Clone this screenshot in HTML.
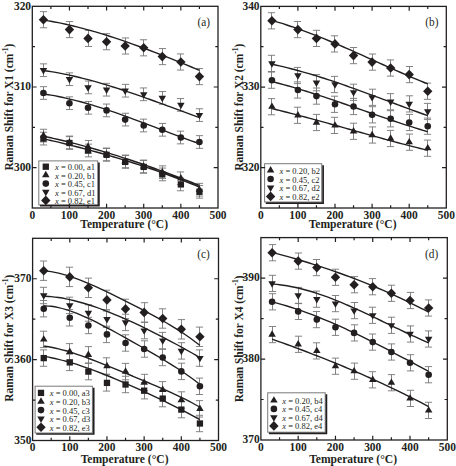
<!DOCTYPE html>
<html><head><meta charset="utf-8"><style>
html,body{margin:0;padding:0;background:#fff;}
body{width:456px;height:466px;overflow:hidden;}
svg{display:block;}
text{font-family:"Liberation Serif",serif;fill:#231f20;}
.tl{font-size:12.2px;font-weight:bold;}
.at{font-size:12px;font-weight:bold;}
.lg{font-size:8.5px;}
.tag{font-size:12.4px;}
</style></head><body>
<svg width="456" height="466" viewBox="0 0 456 466">
<rect width="456" height="466" fill="#fff"/>
<path d="M43.5 129.25V141.95M39.9 129.25H47.1M39.9 141.95H47.1M69.5 136.05V148.75M65.9 136.05H73.1M65.9 148.75H73.1M88.5 140.45V153.15M84.9 140.45H92.1M84.9 153.15H92.1M106.5 148.05V160.75M102.9 148.05H110.1M102.9 160.75H110.1M125.5 155.05V167.75M121.9 155.05H129.1M121.9 167.75H129.1M143.5 160.05V172.75M139.9 160.05H147.1M139.9 172.75H147.1M162.5 165.85V178.55M158.9 165.85H166.1M158.9 178.55H166.1M180.5 171.95V184.65M176.9 171.95H184.1M176.9 184.65H184.1M199.5 183.35V196.05M195.9 183.35H203.1M195.9 196.05H203.1M43.5 132.25V144.95M39.9 132.25H47.1M39.9 144.95H47.1M69.5 136.65V149.35M65.9 136.65H73.1M65.9 149.35H73.1M88.5 144.15V156.85M84.9 144.15H92.1M84.9 156.85H92.1M106.5 148.45V161.15M102.9 148.45H110.1M102.9 161.15H110.1M125.5 155.55V168.25M121.9 155.55H129.1M121.9 168.25H129.1M143.5 160.55V173.25M139.9 160.55H147.1M139.9 173.25H147.1M162.5 168.05V180.75M158.9 168.05H166.1M158.9 180.75H166.1M180.5 178.05V190.75M176.9 178.05H184.1M176.9 190.75H184.1M199.5 185.45V198.15M195.9 185.45H203.1M195.9 198.15H203.1M43.5 86.65V99.35M39.9 86.65H47.1M39.9 99.35H47.1M69.5 96.85V109.55M65.9 96.85H73.1M65.9 109.55H73.1M88.5 101.45V114.15M84.9 101.45H92.1M84.9 114.15H92.1M106.5 104.05V116.75M102.9 104.05H110.1M102.9 116.75H110.1M125.5 113.25V125.95M121.9 113.25H129.1M121.9 125.95H129.1M143.5 119.15V131.85M139.9 119.15H147.1M139.9 131.85H147.1M162.5 123.45V136.15M158.9 123.45H166.1M158.9 136.15H166.1M180.5 131.15V143.85M176.9 131.15H184.1M176.9 143.85H184.1M199.5 135.65V148.35M195.9 135.65H203.1M195.9 148.35H203.1M43.5 63.85V76.55M39.9 63.85H47.1M39.9 76.55H47.1M69.5 72.85V85.55M65.9 72.85H73.1M65.9 85.55H73.1M88.5 81.05V93.75M84.9 81.05H92.1M84.9 93.75H92.1M106.5 83.35V96.05M102.9 83.35H110.1M102.9 96.05H110.1M125.5 84.35V97.05M121.9 84.35H129.1M121.9 97.05H129.1M143.5 87.95V100.65M139.9 87.95H147.1M139.9 100.65H147.1M162.5 91.55V104.25M158.9 91.55H166.1M158.9 104.25H166.1M180.5 98.55V111.25M176.9 98.55H184.1M176.9 111.25H184.1M199.5 108.75V121.45M195.9 108.75H203.1M195.9 121.45H203.1M43.5 11.65V27.75M39.9 11.65H47.1M39.9 27.75H47.1M69.5 21.55V37.65M65.9 21.55H73.1M65.9 37.65H73.1M88.5 30.35V46.45M84.9 30.35H92.1M84.9 46.45H92.1M106.5 33.65V49.75M102.9 33.65H110.1M102.9 49.75H110.1M125.5 37.95V54.05M121.9 37.95H129.1M121.9 54.05H129.1M143.5 39.75V55.85M139.9 39.75H147.1M139.9 55.85H147.1M162.5 48.55V64.65M158.9 48.55H166.1M158.9 64.65H166.1M180.5 53.95V70.05M176.9 53.95H184.1M176.9 70.05H184.1M199.5 68.55V84.65M195.9 68.55H203.1M195.9 84.65H203.1" stroke="#767676" stroke-width="0.9" fill="none"/>
<path d="M43.44 136.19C44.68 136.46 48.39 137.25 50.87 137.8C53.35 138.35 55.82 138.92 58.3 139.5C60.77 140.08 63.25 140.68 65.73 141.29C68.2 141.89 70.68 142.51 73.15 143.15C75.63 143.78 78.11 144.43 80.58 145.09C83.06 145.75 85.53 146.43 88.01 147.12C90.49 147.8 92.96 148.5 95.44 149.21C97.91 149.92 100.39 150.65 102.87 151.38C105.34 152.12 107.82 152.87 110.29 153.63C112.77 154.39 115.25 155.16 117.72 155.94C120.2 156.72 122.67 157.52 125.15 158.32C127.63 159.13 130.1 159.94 132.58 160.77C135.05 161.6 137.53 162.43 140.01 163.28C142.48 164.13 144.96 164.99 147.43 165.86C149.91 166.72 152.39 167.6 154.86 168.49C157.34 169.38 159.81 170.28 162.29 171.18C164.77 172.09 167.24 173.01 169.72 173.93C172.19 174.86 174.67 175.8 177.15 176.74C179.62 177.68 182.1 178.64 184.57 179.6C187.05 180.56 189.53 181.53 192 182.5C194.48 183.48 198.19 184.97 199.43 185.46M43.44 138.76C44.68 139.04 48.39 139.88 50.87 140.45C53.35 141.02 55.82 141.6 58.3 142.19C60.77 142.78 63.25 143.37 65.73 143.98C68.2 144.59 70.68 145.2 73.15 145.83C75.63 146.45 78.11 147.09 80.58 147.73C83.06 148.38 85.53 149.03 88.01 149.69C90.49 150.36 92.96 151.03 95.44 151.71C97.91 152.4 100.39 153.09 102.87 153.79C105.34 154.5 107.82 155.21 110.29 155.94C112.77 156.66 115.25 157.4 117.72 158.14C120.2 158.89 122.67 159.65 125.15 160.42C127.63 161.18 130.1 161.96 132.58 162.75C135.05 163.55 137.53 164.35 140.01 165.16C142.48 165.98 144.96 166.8 147.43 167.64C149.91 168.48 152.39 169.33 154.86 170.19C157.34 171.05 159.81 171.92 162.29 172.81C164.77 173.7 167.24 174.6 169.72 175.51C172.19 176.42 174.67 177.34 177.15 178.28C179.62 179.22 182.1 180.17 184.57 181.13C187.05 182.1 189.53 183.07 192 184.06C194.48 185.05 198.19 186.57 199.43 187.08M43.44 94.02C44.68 94.21 48.39 94.74 50.87 95.15C53.35 95.57 55.82 96.03 58.3 96.51C60.77 97 63.25 97.52 65.73 98.07C68.2 98.63 70.68 99.21 73.15 99.82C75.63 100.44 78.11 101.08 80.58 101.75C83.06 102.42 85.53 103.11 88.01 103.83C90.49 104.55 92.96 105.29 95.44 106.06C97.91 106.82 100.39 107.61 102.87 108.41C105.34 109.21 107.82 110.04 110.29 110.87C112.77 111.71 115.25 112.57 117.72 113.44C120.2 114.3 122.67 115.19 125.15 116.08C127.63 116.97 130.1 117.88 132.58 118.79C135.05 119.71 137.53 120.63 140.01 121.56C142.48 122.48 144.96 123.42 147.43 124.35C149.91 125.29 152.39 126.23 154.86 127.17C157.34 128.12 159.81 129.06 162.29 130C164.77 130.94 167.24 131.88 169.72 132.82C172.19 133.75 174.67 134.68 177.15 135.61C179.62 136.53 182.1 137.45 184.57 138.36C187.05 139.27 189.53 140.17 192 141.05C194.48 141.94 198.19 143.24 199.43 143.68M43.44 70.47C44.68 70.66 48.39 71.19 50.87 71.6C53.35 72 55.82 72.44 58.3 72.9C60.77 73.36 63.25 73.85 65.73 74.37C68.2 74.88 70.68 75.42 73.15 75.99C75.63 76.55 78.11 77.15 80.58 77.76C83.06 78.37 85.53 79.01 88.01 79.66C90.49 80.32 92.96 81 95.44 81.69C97.91 82.39 100.39 83.1 102.87 83.84C105.34 84.57 107.82 85.32 110.29 86.09C112.77 86.85 115.25 87.64 117.72 88.43C120.2 89.23 122.67 90.04 125.15 90.86C127.63 91.69 130.1 92.52 132.58 93.37C135.05 94.21 137.53 95.07 140.01 95.94C142.48 96.8 144.96 97.68 147.43 98.56C149.91 99.44 152.39 100.33 154.86 101.22C157.34 102.12 159.81 103.02 162.29 103.92C164.77 104.83 167.24 105.74 169.72 106.65C172.19 107.56 174.67 108.47 177.15 109.38C179.62 110.3 182.1 111.21 184.57 112.12C187.05 113.04 189.53 113.95 192 114.86C194.48 115.76 198.19 117.12 199.43 117.57M43.44 19.97C44.68 20.18 48.39 20.79 50.87 21.24C53.35 21.69 55.82 22.17 58.3 22.67C60.77 23.17 63.25 23.7 65.73 24.25C68.2 24.8 70.68 25.38 73.15 25.97C75.63 26.57 78.11 27.19 80.58 27.83C83.06 28.47 85.53 29.14 88.01 29.82C90.49 30.5 92.96 31.21 95.44 31.93C97.91 32.65 100.39 33.39 102.87 34.15C105.34 34.91 107.82 35.69 110.29 36.48C112.77 37.28 115.25 38.09 117.72 38.92C120.2 39.74 122.67 40.59 125.15 41.44C127.63 42.3 130.1 43.17 132.58 44.06C135.05 44.94 137.53 45.84 140.01 46.75C142.48 47.66 144.96 48.58 147.43 49.51C149.91 50.45 152.39 51.39 154.86 52.35C157.34 53.3 159.81 54.27 162.29 55.24C164.77 56.21 167.24 57.19 169.72 58.18C172.19 59.17 174.67 60.17 177.15 61.17C179.62 62.17 182.1 63.18 184.57 64.19C187.05 65.21 189.53 66.23 192 67.25C194.48 68.27 198.19 69.82 199.43 70.33" stroke="#231f20" stroke-width="1.4" fill="none"/>
<g fill="#231f20"><path d="M43.44 131.33L47.19 137.73L39.69 137.73Z"/><path d="M69.44 138.13L73.19 144.53L65.69 144.53Z"/><path d="M88.01 142.53L91.76 148.93L84.26 148.93Z"/><path d="M106.58 150.13L110.33 156.53L102.83 156.53Z"/><path d="M125.15 157.13L128.9 163.53L121.4 163.53Z"/><path d="M143.72 162.13L147.47 168.53L139.97 168.53Z"/><path d="M162.29 167.93L166.04 174.33L158.54 174.33Z"/><path d="M180.86 174.03L184.61 180.43L177.11 180.43Z"/><path d="M199.43 185.43L203.18 191.83L195.68 191.83Z"/><rect x="40.29" y="135.45" width="6.3" height="6.3"/><rect x="66.29" y="139.85" width="6.3" height="6.3"/><rect x="84.86" y="147.35" width="6.3" height="6.3"/><rect x="103.43" y="151.65" width="6.3" height="6.3"/><rect x="122" y="158.75" width="6.3" height="6.3"/><rect x="140.57" y="163.75" width="6.3" height="6.3"/><rect x="159.14" y="171.25" width="6.3" height="6.3"/><rect x="177.71" y="181.25" width="6.3" height="6.3"/><rect x="196.28" y="188.65" width="6.3" height="6.3"/><circle cx="43.44" cy="93" r="3.3"/><circle cx="69.44" cy="103.2" r="3.3"/><circle cx="88.01" cy="107.8" r="3.3"/><circle cx="106.58" cy="110.4" r="3.3"/><circle cx="125.15" cy="119.6" r="3.3"/><circle cx="143.72" cy="125.5" r="3.3"/><circle cx="162.29" cy="129.8" r="3.3"/><circle cx="180.86" cy="137.5" r="3.3"/><circle cx="199.43" cy="142" r="3.3"/><path d="M43.44 74.47L47.19 68.07L39.69 68.07Z"/><path d="M69.44 83.47L73.19 77.07L65.69 77.07Z"/><path d="M88.01 91.67L91.76 85.27L84.26 85.27Z"/><path d="M106.58 93.97L110.33 87.57L102.83 87.57Z"/><path d="M125.15 94.97L128.9 88.57L121.4 88.57Z"/><path d="M143.72 98.57L147.47 92.17L139.97 92.17Z"/><path d="M162.29 102.17L166.04 95.77L158.54 95.77Z"/><path d="M180.86 109.17L184.61 102.77L177.11 102.77Z"/><path d="M199.43 119.37L203.18 112.97L195.68 112.97Z"/><path d="M43.44 14.9L48.14 19.7L43.44 24.5L38.74 19.7Z"/><path d="M69.44 24.8L74.14 29.6L69.44 34.4L64.74 29.6Z"/><path d="M88.01 33.6L92.71 38.4L88.01 43.2L83.31 38.4Z"/><path d="M106.58 36.9L111.28 41.7L106.58 46.5L101.88 41.7Z"/><path d="M125.15 41.2L129.85 46L125.15 50.8L120.45 46Z"/><path d="M143.72 43L148.42 47.8L143.72 52.6L139.02 47.8Z"/><path d="M162.29 51.8L166.99 56.6L162.29 61.4L157.59 56.6Z"/><path d="M180.86 57.2L185.56 62L180.86 66.8L176.16 62Z"/><path d="M199.43 71.8L204.13 76.6L199.43 81.4L194.73 76.6Z"/></g>
<rect x="38.8" y="160.9" width="58.9" height="44.1" fill="#fff" stroke="#7a7a7a" stroke-width="1"/>
<path d="M40 205.6H98.9V162.4" stroke="#231f20" stroke-width="1.7" fill="none"/>
<g fill="#231f20"><rect x="42.65" y="163.55" width="6.3" height="6.3"/><path d="M45.8 170.83L49.55 177.23L42.05 177.23Z"/><circle cx="45.8" cy="183.6" r="3.3"/><path d="M45.8 196.27L49.55 189.87L42.05 189.87Z"/><path d="M45.8 195.6L50.5 200.4L45.8 205.2L41.1 200.4Z"/></g>
<text x="55" y="170.2" class="lg"><tspan font-style="italic">x</tspan> = 0.00, a1</text>
<text x="55" y="178.6" class="lg"><tspan font-style="italic">x</tspan> = 0.20, b1</text>
<text x="55" y="187.1" class="lg"><tspan font-style="italic">x</tspan> = 0.45, c1</text>
<text x="55" y="195.5" class="lg"><tspan font-style="italic">x</tspan> = 0.67, d1</text>
<text x="55" y="203.9" class="lg"><tspan font-style="italic">x</tspan> = 0.82, e1</text>
<rect x="32.3" y="6.3" width="185.7" height="201.7" fill="none" stroke="#231f20" stroke-width="1.3"/>
<path d="M50.87 208v-2.7M50.87 6.3v2.7M69.44 208v-4.3M69.44 6.3v4.3M88.01 208v-2.7M88.01 6.3v2.7M106.58 208v-4.3M106.58 6.3v4.3M125.15 208v-2.7M125.15 6.3v2.7M143.72 208v-4.3M143.72 6.3v4.3M162.29 208v-2.7M162.29 6.3v2.7M180.86 208v-4.3M180.86 6.3v4.3M199.43 208v-2.7M199.43 6.3v2.7M32.3 86.98h4.3M218 86.98h-4.3M32.3 167.66h4.3M218 167.66h-4.3M32.3 46.64h2.7M218 46.64h-2.7M32.3 127.32h2.7M218 127.32h-2.7" stroke="#231f20" stroke-width="1.2" fill="none"/>
<text transform="translate(32.3 218.7) scale(0.94 1)" class="tl" text-anchor="middle">0</text>
<text transform="translate(69.44 218.7) scale(0.94 1)" class="tl" text-anchor="middle">100</text>
<text transform="translate(106.58 218.7) scale(0.94 1)" class="tl" text-anchor="middle">200</text>
<text transform="translate(143.72 218.7) scale(0.94 1)" class="tl" text-anchor="middle">300</text>
<text transform="translate(180.86 218.7) scale(0.94 1)" class="tl" text-anchor="middle">400</text>
<text transform="translate(218 218.7) scale(0.94 1)" class="tl" text-anchor="middle">500</text>
<text transform="translate(31.1 9.6) scale(0.94 1)" class="tl" text-anchor="end">320</text>
<text transform="translate(31.1 90.28) scale(0.94 1)" class="tl" text-anchor="end">310</text>
<text transform="translate(31.1 170.96) scale(0.94 1)" class="tl" text-anchor="end">300</text>
<text transform="translate(124.15 228.1) scale(0.965 1)" class="at" text-anchor="middle">Temperature (°C)</text>
<text transform="translate(12.7 107.15) rotate(-90) scale(0.95 1)" class="at" text-anchor="middle">Raman Shift for X1 (cm<tspan dy="-5.0" font-size="8">-1</tspan><tspan dy="5.0">)</tspan></text>
<text transform="translate(203.75 26.1) scale(0.91 1)" class="tag" text-anchor="middle">(a)</text>
<path d="M271.5 98.6V114.8M267.9 98.6H275.1M267.9 114.8H275.1M297.5 107.2V123.4M293.9 107.2H301.1M293.9 123.4H301.1M316.5 114.4V130.6M312.9 114.4H320.1M312.9 130.6H320.1M334.5 117.3V133.5M330.9 117.3H338.1M330.9 133.5H338.1M353.5 123.2V139.4M349.9 123.2H357.1M349.9 139.4H357.1M372.5 126.9V143.1M368.9 126.9H376.1M368.9 143.1H376.1M390.5 130.4V146.6M386.9 130.4H394.1M386.9 146.6H394.1M409.5 134.1V150.3M405.9 134.1H413.1M405.9 150.3H413.1M427.5 140.1V156.3M423.9 140.1H431.1M423.9 156.3H431.1M271.5 72.1V88.3M267.9 72.1H275.1M267.9 88.3H275.1M297.5 81.9V98.1M293.9 81.9H301.1M293.9 98.1H301.1M316.5 88V104.2M312.9 88H320.1M312.9 104.2H320.1M334.5 96.2V112.4M330.9 96.2H338.1M330.9 112.4H338.1M353.5 98.4V114.6M349.9 98.4H357.1M349.9 114.6H357.1M372.5 106.7V122.9M368.9 106.7H376.1M368.9 122.9H376.1M390.5 110.7V126.9M386.9 110.7H394.1M386.9 126.9H394.1M409.5 114.4V130.6M405.9 114.4H413.1M405.9 130.6H413.1M427.5 118.1V134.3M423.9 118.1H431.1M423.9 134.3H431.1M271.5 55.3V71.5M267.9 55.3H275.1M267.9 71.5H275.1M297.5 67.4V83.6M293.9 67.4H301.1M293.9 83.6H301.1M316.5 74.6V90.8M312.9 74.6H320.1M312.9 90.8H320.1M334.5 76.4V92.6M330.9 76.4H338.1M330.9 92.6H338.1M353.5 84.2V100.4M349.9 84.2H357.1M349.9 100.4H357.1M372.5 89.2V105.4M368.9 89.2H376.1M368.9 105.4H376.1M390.5 93.6V109.8M386.9 93.6H394.1M386.9 109.8H394.1M409.5 95.8V112M405.9 95.8H413.1M405.9 112H413.1M427.5 103.4V119.6M423.9 103.4H431.1M423.9 119.6H431.1M271.5 12.7V28.9M267.9 12.7H275.1M267.9 28.9H275.1M297.5 21.5V37.7M293.9 21.5H301.1M293.9 37.7H301.1M316.5 30.3V46.5M312.9 30.3H320.1M312.9 46.5H320.1M334.5 35.8V52M330.9 35.8H338.1M330.9 52H338.1M353.5 47.5V63.7M349.9 47.5H357.1M349.9 63.7H357.1M372.5 54V70.2M368.9 54H376.1M368.9 70.2H376.1M390.5 59.9V76.1M386.9 59.9H394.1M386.9 76.1H394.1M409.5 66.5V82.7M405.9 66.5H413.1M405.9 82.7H413.1M427.5 83.1V99.3M423.9 83.1H431.1M423.9 99.3H431.1" stroke="#767676" stroke-width="0.9" fill="none"/>
<path d="M271.93 108.59C273.17 108.89 276.88 109.79 279.35 110.4C281.82 111.02 284.3 111.64 286.77 112.27C289.24 112.9 291.72 113.54 294.19 114.18C296.66 114.82 299.14 115.47 301.61 116.13C304.08 116.79 306.56 117.45 309.03 118.12C311.5 118.78 313.98 119.45 316.45 120.13C318.92 120.81 321.4 121.49 323.87 122.17C326.34 122.85 328.82 123.54 331.29 124.22C333.76 124.91 336.24 125.6 338.71 126.29C341.18 126.99 343.66 127.68 346.13 128.37C348.6 129.07 351.08 129.76 353.55 130.45C356.02 131.15 358.5 131.84 360.97 132.53C363.44 133.23 365.92 133.92 368.39 134.61C370.86 135.3 373.34 135.98 375.81 136.67C378.28 137.35 380.76 138.03 383.23 138.71C385.7 139.39 388.18 140.06 390.65 140.73C393.12 141.4 395.6 142.06 398.07 142.72C400.54 143.38 403.02 144.03 405.49 144.68C407.96 145.33 410.44 145.97 412.91 146.6C415.38 147.23 417.86 147.86 420.33 148.48C422.8 149.1 426.51 150 427.75 150.31M271.93 81.57C273.17 81.89 276.88 82.83 279.35 83.49C281.82 84.15 284.3 84.83 286.77 85.52C289.24 86.21 291.72 86.92 294.19 87.65C296.66 88.37 299.14 89.11 301.61 89.86C304.08 90.62 306.56 91.38 309.03 92.16C311.5 92.94 313.98 93.73 316.45 94.53C318.92 95.33 321.4 96.14 323.87 96.96C326.34 97.78 328.82 98.61 331.29 99.44C333.76 100.28 336.24 101.12 338.71 101.96C341.18 102.81 343.66 103.66 346.13 104.51C348.6 105.37 351.08 106.23 353.55 107.09C356.02 107.94 358.5 108.81 360.97 109.67C363.44 110.53 365.92 111.39 368.39 112.25C370.86 113.11 373.34 113.97 375.81 114.82C378.28 115.68 380.76 116.53 383.23 117.38C385.7 118.22 388.18 119.06 390.65 119.9C393.12 120.73 395.6 121.56 398.07 122.38C400.54 123.2 403.02 124.02 405.49 124.82C407.96 125.62 410.44 126.41 412.91 127.19C415.38 127.97 417.86 128.74 420.33 129.49C422.8 130.25 426.51 131.35 427.75 131.72M271.93 64.26C273.17 64.53 276.88 65.32 279.35 65.88C281.82 66.44 284.3 67.03 286.77 67.64C289.24 68.25 291.72 68.89 294.19 69.54C296.66 70.19 299.14 70.87 301.61 71.56C304.08 72.25 306.56 72.97 309.03 73.7C311.5 74.43 313.98 75.18 316.45 75.94C318.92 76.71 321.4 77.49 323.87 78.28C326.34 79.08 328.82 79.89 331.29 80.71C333.76 81.53 336.24 82.37 338.71 83.21C341.18 84.06 343.66 84.92 346.13 85.78C348.6 86.65 351.08 87.53 353.55 88.41C356.02 89.29 358.5 90.19 360.97 91.09C363.44 91.98 365.92 92.89 368.39 93.8C370.86 94.71 373.34 95.62 375.81 96.54C378.28 97.46 380.76 98.38 383.23 99.3C385.7 100.22 388.18 101.15 390.65 102.07C393.12 102.99 395.6 103.91 398.07 104.84C400.54 105.76 403.02 106.68 405.49 107.59C407.96 108.51 410.44 109.42 412.91 110.33C415.38 111.23 417.86 112.14 420.33 113.03C422.8 113.93 426.51 115.25 427.75 115.7M271.93 20.54C273.17 20.9 276.88 21.93 279.35 22.66C281.82 23.4 284.3 24.17 286.77 24.96C289.24 25.75 291.72 26.58 294.19 27.43C296.66 28.27 299.14 29.15 301.61 30.04C304.08 30.94 306.56 31.86 309.03 32.79C311.5 33.73 313.98 34.69 316.45 35.67C318.92 36.65 321.4 37.65 323.87 38.66C326.34 39.67 328.82 40.7 331.29 41.74C333.76 42.78 336.24 43.83 338.71 44.9C341.18 45.96 343.66 47.04 346.13 48.12C348.6 49.21 351.08 50.3 353.55 51.4C356.02 52.5 358.5 53.61 360.97 54.71C363.44 55.82 365.92 56.94 368.39 58.05C370.86 59.17 373.34 60.28 375.81 61.4C378.28 62.51 380.76 63.63 383.23 64.74C385.7 65.85 388.18 66.96 390.65 68.06C393.12 69.17 395.6 70.26 398.07 71.35C400.54 72.44 403.02 73.52 405.49 74.59C407.96 75.66 410.44 76.72 412.91 77.77C415.38 78.82 417.86 79.85 420.33 80.87C422.8 81.89 426.51 83.38 427.75 83.88" stroke="#231f20" stroke-width="1.4" fill="none"/>
<g fill="#231f20"><path d="M271.93 102.43L275.68 108.83L268.18 108.83Z"/><path d="M297.9 111.03L301.65 117.43L294.15 117.43Z"/><path d="M316.45 118.23L320.2 124.63L312.7 124.63Z"/><path d="M335 121.13L338.75 127.53L331.25 127.53Z"/><path d="M353.55 127.03L357.3 133.43L349.8 133.43Z"/><path d="M372.1 130.73L375.85 137.13L368.35 137.13Z"/><path d="M390.65 134.23L394.4 140.63L386.9 140.63Z"/><path d="M409.2 137.93L412.95 144.33L405.45 144.33Z"/><path d="M427.75 143.93L431.5 150.33L424 150.33Z"/><circle cx="271.93" cy="80.2" r="3.3"/><circle cx="297.9" cy="90" r="3.3"/><circle cx="316.45" cy="96.1" r="3.3"/><circle cx="335" cy="104.3" r="3.3"/><circle cx="353.55" cy="106.5" r="3.3"/><circle cx="372.1" cy="114.8" r="3.3"/><circle cx="390.65" cy="118.8" r="3.3"/><circle cx="409.2" cy="122.5" r="3.3"/><circle cx="427.75" cy="126.2" r="3.3"/><path d="M271.93 67.67L275.68 61.27L268.18 61.27Z"/><path d="M297.9 79.77L301.65 73.37L294.15 73.37Z"/><path d="M316.45 86.97L320.2 80.57L312.7 80.57Z"/><path d="M335 88.77L338.75 82.37L331.25 82.37Z"/><path d="M353.55 96.57L357.3 90.17L349.8 90.17Z"/><path d="M372.1 101.57L375.85 95.17L368.35 95.17Z"/><path d="M390.65 105.97L394.4 99.57L386.9 99.57Z"/><path d="M409.2 108.17L412.95 101.77L405.45 101.77Z"/><path d="M427.75 115.77L431.5 109.37L424 109.37Z"/><path d="M271.93 16L276.63 20.8L271.93 25.6L267.23 20.8Z"/><path d="M297.9 24.8L302.6 29.6L297.9 34.4L293.2 29.6Z"/><path d="M316.45 33.6L321.15 38.4L316.45 43.2L311.75 38.4Z"/><path d="M335 39.1L339.7 43.9L335 48.7L330.3 43.9Z"/><path d="M353.55 50.8L358.25 55.6L353.55 60.4L348.85 55.6Z"/><path d="M372.1 57.3L376.8 62.1L372.1 66.9L367.4 62.1Z"/><path d="M390.65 63.2L395.35 68L390.65 72.8L385.95 68Z"/><path d="M409.2 69.8L413.9 74.6L409.2 79.4L404.5 74.6Z"/><path d="M427.75 86.4L432.45 91.2L427.75 96L423.05 91.2Z"/></g>
<rect x="264.6" y="163.7" width="57.1" height="38.3" fill="#fff" stroke="#7a7a7a" stroke-width="1"/>
<path d="M265.8 203.2H323.1V165.2" stroke="#231f20" stroke-width="1.7" fill="none"/>
<g fill="#231f20"><path d="M270.6 166.03L274.35 172.43L266.85 172.43Z"/><circle cx="270.6" cy="179" r="3.3"/><path d="M270.6 191.97L274.35 185.57L266.85 185.57Z"/><path d="M270.6 191.6L275.3 196.4L270.6 201.2L265.9 196.4Z"/></g>
<text x="279.5" y="173.8" class="lg"><tspan font-style="italic">x</tspan> = 0.20, b2</text>
<text x="279.5" y="182.5" class="lg"><tspan font-style="italic">x</tspan> = 0.45, c2</text>
<text x="279.5" y="191.2" class="lg"><tspan font-style="italic">x</tspan> = 0.67, d2</text>
<text x="279.5" y="199.9" class="lg"><tspan font-style="italic">x</tspan> = 0.82, e2</text>
<rect x="260.8" y="6.4" width="185.5" height="201.6" fill="none" stroke="#231f20" stroke-width="1.3"/>
<path d="M279.35 208v-2.7M279.35 6.4v2.7M297.9 208v-4.3M297.9 6.4v4.3M316.45 208v-2.7M316.45 6.4v2.7M335 208v-4.3M335 6.4v4.3M353.55 208v-2.7M353.55 6.4v2.7M372.1 208v-4.3M372.1 6.4v4.3M390.65 208v-2.7M390.65 6.4v2.7M409.2 208v-4.3M409.2 6.4v4.3M427.75 208v-2.7M427.75 6.4v2.7M260.8 87.04h4.3M446.3 87.04h-4.3M260.8 167.68h4.3M446.3 167.68h-4.3M260.8 46.72h2.7M446.3 46.72h-2.7M260.8 127.36h2.7M446.3 127.36h-2.7" stroke="#231f20" stroke-width="1.2" fill="none"/>
<text transform="translate(260.8 218.7) scale(0.94 1)" class="tl" text-anchor="middle">0</text>
<text transform="translate(297.9 218.7) scale(0.94 1)" class="tl" text-anchor="middle">100</text>
<text transform="translate(335 218.7) scale(0.94 1)" class="tl" text-anchor="middle">200</text>
<text transform="translate(372.1 218.7) scale(0.94 1)" class="tl" text-anchor="middle">300</text>
<text transform="translate(409.2 218.7) scale(0.94 1)" class="tl" text-anchor="middle">400</text>
<text transform="translate(446.3 218.7) scale(0.94 1)" class="tl" text-anchor="middle">500</text>
<text transform="translate(259.6 9.7) scale(0.94 1)" class="tl" text-anchor="end">340</text>
<text transform="translate(259.6 90.34) scale(0.94 1)" class="tl" text-anchor="end">330</text>
<text transform="translate(259.6 170.98) scale(0.94 1)" class="tl" text-anchor="end">320</text>
<text transform="translate(352.55 228.1) scale(0.965 1)" class="at" text-anchor="middle">Temperature (°C)</text>
<text transform="translate(242.5 107.2) rotate(-90) scale(0.95 1)" class="at" text-anchor="middle">Raman Shift for X2 (cm<tspan dy="-5.0" font-size="8">-1</tspan><tspan dy="5.0">)</tspan></text>
<text transform="translate(431.9 26.1) scale(0.91 1)" class="tag" text-anchor="middle">(b)</text>
<path d="M43.5 349.9V366.3M39.9 349.9H47.1M39.9 366.3H47.1M69.5 354.2V370.6M65.9 354.2H73.1M65.9 370.6H73.1M88.5 363.4V379.8M84.9 363.4H92.1M84.9 379.8H92.1M106.5 374.7V391.1M102.9 374.7H110.1M102.9 391.1H110.1M125.5 376.3V392.7M121.9 376.3H129.1M121.9 392.7H129.1M144.5 382.5V398.9M140.9 382.5H148.1M140.9 398.9H148.1M162.5 390.4V406.8M158.9 390.4H166.1M158.9 406.8H166.1M181.5 401.4V417.8M177.9 401.4H185.1M177.9 417.8H185.1M199.5 415.3V431.7M195.9 415.3H203.1M195.9 431.7H203.1M43.5 331.2V347.6M39.9 331.2H47.1M39.9 347.6H47.1M69.5 343.6V360M65.9 343.6H73.1M65.9 360H73.1M88.5 346.6V363M84.9 346.6H92.1M84.9 363H92.1M106.5 357.8V374.2M102.9 357.8H110.1M102.9 374.2H110.1M125.5 363.4V379.8M121.9 363.4H129.1M121.9 379.8H129.1M144.5 374.3V390.7M140.9 374.3H148.1M140.9 390.7H148.1M162.5 381.6V398M158.9 381.6H166.1M158.9 398H166.1M181.5 391.8V408.2M177.9 391.8H185.1M177.9 408.2H185.1M199.5 400.6V417M195.9 400.6H203.1M195.9 417H203.1M43.5 300.5V316.9M39.9 300.5H47.1M39.9 316.9H47.1M69.5 309.6V326M65.9 309.6H73.1M65.9 326H73.1M88.5 317.3V333.7M84.9 317.3H92.1M84.9 333.7H92.1M106.5 326.2V342.6M102.9 326.2H110.1M102.9 342.6H110.1M125.5 334.8V351.2M121.9 334.8H129.1M121.9 351.2H129.1M144.5 340.8V357.2M140.9 340.8H148.1M140.9 357.2H148.1M162.5 349.3V365.7M158.9 349.3H166.1M158.9 365.7H166.1M181.5 363.2V379.6M177.9 363.2H185.1M177.9 379.6H185.1M199.5 378.1V394.5M195.9 378.1H203.1M195.9 394.5H203.1M43.5 287.3V303.7M39.9 287.3H47.1M39.9 303.7H47.1M69.5 297.2V313.6M65.9 297.2H73.1M65.9 313.6H73.1M88.5 304.8V321.2M84.9 304.8H92.1M84.9 321.2H92.1M106.5 311V327.4M102.9 311H110.1M102.9 327.4H110.1M125.5 314.2V330.6M121.9 314.2H129.1M121.9 330.6H129.1M144.5 322.4V338.8M140.9 322.4H148.1M140.9 338.8H148.1M162.5 332.4V348.8M158.9 332.4H166.1M158.9 348.8H166.1M181.5 342.7V359.1M177.9 342.7H185.1M177.9 359.1H185.1M199.5 349.9V366.3M195.9 349.9H203.1M195.9 366.3H203.1M43.5 261V280.4M39.9 261H47.1M39.9 280.4H47.1M69.5 267.2V286.6M65.9 267.2H73.1M65.9 286.6H73.1M88.5 278.1V297.5M84.9 278.1H92.1M84.9 297.5H92.1M106.5 290.2V309.6M102.9 290.2H110.1M102.9 309.6H110.1M125.5 299.2V318.6M121.9 299.2H129.1M121.9 318.6H129.1M144.5 302.7V322.1M140.9 302.7H148.1M140.9 322.1H148.1M162.5 308.8V328.2M158.9 308.8H166.1M158.9 328.2H166.1M181.5 319.6V339M177.9 319.6H185.1M177.9 339H185.1M199.5 327.1V346.5M195.9 327.1H203.1M195.9 346.5H203.1" stroke="#767676" stroke-width="0.9" fill="none"/>
<path d="M43.75 356.42C44.99 356.64 48.71 357.24 51.19 357.73C53.67 358.23 56.15 358.77 58.63 359.36C61.1 359.95 63.58 360.6 66.06 361.28C68.54 361.95 71.02 362.68 73.5 363.44C75.98 364.19 78.46 364.99 80.93 365.81C83.41 366.64 85.89 367.5 88.37 368.38C90.85 369.26 93.33 370.18 95.81 371.11C98.28 372.05 100.76 373.01 103.24 373.99C105.72 374.97 108.2 375.97 110.68 376.99C113.16 378.01 115.64 379.05 118.11 380.1C120.59 381.15 123.07 382.22 125.55 383.3C128.03 384.38 130.51 385.48 132.99 386.59C135.46 387.7 137.94 388.82 140.42 389.95C142.9 391.08 145.38 392.23 147.86 393.39C150.34 394.54 152.82 395.71 155.29 396.89C157.77 398.08 160.25 399.27 162.73 400.47C165.21 401.68 167.69 402.9 170.17 404.13C172.64 405.36 175.12 406.6 177.6 407.87C180.08 409.13 182.56 410.4 185.04 411.7C187.52 412.99 190 414.3 192.47 415.63C194.95 416.97 198.67 419.01 199.91 419.69M43.75 346.12C44.99 346.3 48.71 346.78 51.19 347.23C53.67 347.68 56.15 348.22 58.63 348.81C61.1 349.4 63.58 350.07 66.06 350.78C68.54 351.48 71.02 352.25 73.5 353.05C75.98 353.85 78.46 354.7 80.93 355.57C83.41 356.44 85.89 357.35 88.37 358.28C90.85 359.2 93.33 360.16 95.81 361.12C98.28 362.09 100.76 363.07 103.24 364.07C105.72 365.06 108.2 366.07 110.68 367.08C113.16 368.09 115.64 369.1 118.11 370.12C120.59 371.14 123.07 372.17 125.55 373.2C128.03 374.22 130.51 375.25 132.99 376.28C135.46 377.31 137.94 378.34 140.42 379.38C142.9 380.42 145.38 381.45 147.86 382.5C150.34 383.54 152.82 384.59 155.29 385.65C157.77 386.71 160.25 387.77 162.73 388.86C165.21 389.94 167.69 391.04 170.17 392.16C172.64 393.28 175.12 394.41 177.6 395.58C180.08 396.75 182.56 397.94 185.04 399.18C187.52 400.41 190 401.68 192.47 403C194.95 404.33 198.67 406.43 199.91 407.12M43.75 305.8C44.99 305.88 48.71 306 51.19 306.3C53.67 306.6 56.15 307.05 58.63 307.59C61.1 308.14 63.58 308.81 66.06 309.56C68.54 310.31 71.02 311.17 73.5 312.08C75.98 312.99 78.46 314 80.93 315.05C83.41 316.09 85.89 317.22 88.37 318.37C90.85 319.52 93.33 320.73 95.81 321.96C98.28 323.19 100.76 324.47 103.24 325.76C105.72 327.05 108.2 328.37 110.68 329.71C113.16 331.04 115.64 332.39 118.11 333.76C120.59 335.12 123.07 336.49 125.55 337.88C128.03 339.26 130.51 340.65 132.99 342.05C135.46 343.44 137.94 344.85 140.42 346.26C142.9 347.67 145.38 349.09 147.86 350.52C150.34 351.95 152.82 353.38 155.29 354.84C157.77 356.29 160.25 357.76 162.73 359.25C165.21 360.74 167.69 362.25 170.17 363.79C172.64 365.33 175.12 366.9 177.6 368.51C180.08 370.13 182.56 371.77 185.04 373.48C187.52 375.2 190 376.95 192.47 378.78C194.95 380.61 198.67 383.54 199.91 384.49M43.75 296.08C44.99 296.17 48.71 296.36 51.19 296.6C53.67 296.84 56.15 297.16 58.63 297.54C61.1 297.91 63.58 298.35 66.06 298.85C68.54 299.34 71.02 299.9 73.5 300.5C75.98 301.11 78.46 301.77 80.93 302.47C83.41 303.17 85.89 303.92 88.37 304.71C90.85 305.49 93.33 306.33 95.81 307.19C98.28 308.06 100.76 308.96 103.24 309.9C105.72 310.83 108.2 311.8 110.68 312.8C113.16 313.8 115.64 314.83 118.11 315.88C120.59 316.93 123.07 318.01 125.55 319.11C128.03 320.21 130.51 321.34 132.99 322.48C135.46 323.63 137.94 324.79 140.42 325.98C142.9 327.16 145.38 328.37 147.86 329.59C150.34 330.81 152.82 332.05 155.29 333.3C157.77 334.55 160.25 335.82 162.73 337.11C165.21 338.39 167.69 339.7 170.17 341.01C172.64 342.33 175.12 343.66 177.6 345C180.08 346.35 182.56 347.71 185.04 349.08C187.52 350.46 190 351.85 192.47 353.26C194.95 354.67 198.67 356.82 199.91 357.53M43.75 270.67C44.99 270.83 48.71 271.2 51.19 271.62C53.67 272.03 56.15 272.56 58.63 273.16C61.1 273.76 63.58 274.45 66.06 275.2C68.54 275.95 71.02 276.78 73.5 277.65C75.98 278.52 78.46 279.46 80.93 280.43C83.41 281.4 85.89 282.42 88.37 283.47C90.85 284.52 93.33 285.62 95.81 286.73C98.28 287.84 100.76 288.98 103.24 290.14C105.72 291.3 108.2 292.48 110.68 293.68C113.16 294.87 115.64 296.08 118.11 297.31C120.59 298.53 123.07 299.77 125.55 301.01C128.03 302.26 130.51 303.52 132.99 304.79C135.46 306.06 137.94 307.34 140.42 308.63C142.9 309.93 145.38 311.23 147.86 312.56C150.34 313.88 152.82 315.22 155.29 316.59C157.77 317.95 160.25 319.34 162.73 320.75C165.21 322.17 167.69 323.61 170.17 325.09C172.64 326.58 175.12 328.09 177.6 329.66C180.08 331.23 182.56 332.84 185.04 334.52C187.52 336.19 190 337.92 192.47 339.73C194.95 341.54 198.67 344.44 199.91 345.39" stroke="#231f20" stroke-width="1.4" fill="none"/>
<g fill="#231f20"><rect x="40.6" y="354.95" width="6.3" height="6.3"/><rect x="66.63" y="359.25" width="6.3" height="6.3"/><rect x="85.22" y="368.45" width="6.3" height="6.3"/><rect x="103.81" y="379.75" width="6.3" height="6.3"/><rect x="122.4" y="381.35" width="6.3" height="6.3"/><rect x="140.99" y="387.55" width="6.3" height="6.3"/><rect x="159.58" y="395.45" width="6.3" height="6.3"/><rect x="178.17" y="406.45" width="6.3" height="6.3"/><rect x="196.76" y="420.35" width="6.3" height="6.3"/><path d="M43.75 335.13L47.5 341.53L40 341.53Z"/><path d="M69.78 347.53L73.53 353.93L66.03 353.93Z"/><path d="M88.37 350.53L92.12 356.93L84.62 356.93Z"/><path d="M106.96 361.73L110.71 368.13L103.21 368.13Z"/><path d="M125.55 367.33L129.3 373.73L121.8 373.73Z"/><path d="M144.14 378.23L147.89 384.63L140.39 384.63Z"/><path d="M162.73 385.53L166.48 391.93L158.98 391.93Z"/><path d="M181.32 395.73L185.07 402.13L177.57 402.13Z"/><path d="M199.91 404.53L203.66 410.93L196.16 410.93Z"/><circle cx="43.75" cy="308.7" r="3.3"/><circle cx="69.78" cy="317.8" r="3.3"/><circle cx="88.37" cy="325.5" r="3.3"/><circle cx="106.96" cy="334.4" r="3.3"/><circle cx="125.55" cy="343" r="3.3"/><circle cx="144.14" cy="349" r="3.3"/><circle cx="162.73" cy="357.5" r="3.3"/><circle cx="181.32" cy="371.4" r="3.3"/><circle cx="199.91" cy="386.3" r="3.3"/><path d="M43.75 299.77L47.5 293.37L40 293.37Z"/><path d="M69.78 309.67L73.53 303.27L66.03 303.27Z"/><path d="M88.37 317.27L92.12 310.87L84.62 310.87Z"/><path d="M106.96 323.47L110.71 317.07L103.21 317.07Z"/><path d="M125.55 326.67L129.3 320.27L121.8 320.27Z"/><path d="M144.14 334.87L147.89 328.47L140.39 328.47Z"/><path d="M162.73 344.87L166.48 338.47L158.98 338.47Z"/><path d="M181.32 355.17L185.07 348.77L177.57 348.77Z"/><path d="M199.91 362.37L203.66 355.97L196.16 355.97Z"/><path d="M43.75 265.9L48.45 270.7L43.75 275.5L39.05 270.7Z"/><path d="M69.78 272.1L74.48 276.9L69.78 281.7L65.08 276.9Z"/><path d="M88.37 283L93.07 287.8L88.37 292.6L83.67 287.8Z"/><path d="M106.96 295.1L111.66 299.9L106.96 304.7L102.26 299.9Z"/><path d="M125.55 304.1L130.25 308.9L125.55 313.7L120.85 308.9Z"/><path d="M144.14 307.6L148.84 312.4L144.14 317.2L139.44 312.4Z"/><path d="M162.73 313.7L167.43 318.5L162.73 323.3L158.03 318.5Z"/><path d="M181.32 324.5L186.02 329.3L181.32 334.1L176.62 329.3Z"/><path d="M199.91 332L204.61 336.8L199.91 341.6L195.21 336.8Z"/></g>
<rect x="35.1" y="386.2" width="57.3" height="46.8" fill="#fff" stroke="#7a7a7a" stroke-width="1"/>
<path d="M36.3 434H93.7V387.7" stroke="#231f20" stroke-width="1.7" fill="none"/>
<g fill="#231f20"><rect x="37.85" y="389.75" width="6.3" height="6.3"/><path d="M41 397.23L44.75 403.63L37.25 403.63Z"/><circle cx="41" cy="410.1" r="3.3"/><path d="M41 422.97L44.75 416.57L37.25 416.57Z"/><path d="M41 422.5L45.7 427.3L41 432.1L36.3 427.3Z"/></g>
<text x="49.8" y="396.4" class="lg"><tspan font-style="italic">x</tspan> = 0.00, a3</text>
<text x="49.8" y="405" class="lg"><tspan font-style="italic">x</tspan> = 0.20, b3</text>
<text x="49.8" y="413.6" class="lg"><tspan font-style="italic">x</tspan> = 0.45, c3</text>
<text x="49.8" y="422.2" class="lg"><tspan font-style="italic">x</tspan> = 0.67, d3</text>
<text x="49.8" y="430.8" class="lg"><tspan font-style="italic">x</tspan> = 0.82, e3</text>
<rect x="32.6" y="238.3" width="185.9" height="202.2" fill="none" stroke="#231f20" stroke-width="1.3"/>
<path d="M51.19 440.5v-2.7M51.19 238.3v2.7M69.78 440.5v-4.3M69.78 238.3v4.3M88.37 440.5v-2.7M88.37 238.3v2.7M106.96 440.5v-4.3M106.96 238.3v4.3M125.55 440.5v-2.7M125.55 238.3v2.7M144.14 440.5v-4.3M144.14 238.3v4.3M162.73 440.5v-2.7M162.73 238.3v2.7M181.32 440.5v-4.3M181.32 238.3v4.3M199.91 440.5v-2.7M199.91 238.3v2.7M32.6 278.74h4.3M218.5 278.74h-4.3M32.6 359.62h4.3M218.5 359.62h-4.3M32.6 319.18h2.7M218.5 319.18h-2.7M32.6 400.06h2.7M218.5 400.06h-2.7" stroke="#231f20" stroke-width="1.2" fill="none"/>
<text transform="translate(32.6 451.2) scale(0.94 1)" class="tl" text-anchor="middle">0</text>
<text transform="translate(69.78 451.2) scale(0.94 1)" class="tl" text-anchor="middle">100</text>
<text transform="translate(106.96 451.2) scale(0.94 1)" class="tl" text-anchor="middle">200</text>
<text transform="translate(144.14 451.2) scale(0.94 1)" class="tl" text-anchor="middle">300</text>
<text transform="translate(181.32 451.2) scale(0.94 1)" class="tl" text-anchor="middle">400</text>
<text transform="translate(218.5 451.2) scale(0.94 1)" class="tl" text-anchor="middle">500</text>
<text transform="translate(31.4 282.04) scale(0.94 1)" class="tl" text-anchor="end">370</text>
<text transform="translate(31.4 362.92) scale(0.94 1)" class="tl" text-anchor="end">360</text>
<text transform="translate(31.4 443.8) scale(0.94 1)" class="tl" text-anchor="end">350</text>
<text transform="translate(124.55 462.7) scale(0.965 1)" class="at" text-anchor="middle">Temperature (°C)</text>
<text transform="translate(13 338.2) rotate(-90) scale(0.95 1)" class="at" text-anchor="middle">Raman Shift for X3 (cm<tspan dy="-5.0" font-size="8">-1</tspan><tspan dy="5.0">)</tspan></text>
<text transform="translate(203.6 258.1) scale(0.91 1)" class="tag" text-anchor="middle">(c)</text>
<path d="M272.5 326.5V342.7M268.9 326.5H276.1M268.9 342.7H276.1M298.5 336.2V352.4M294.9 336.2H302.1M294.9 352.4H302.1M316.5 342.8V359M312.9 342.8H320.1M312.9 359H320.1M335.5 358.1V374.3M331.9 358.1H339.1M331.9 374.3H339.1M354.5 363.1V379.3M350.9 363.1H358.1M350.9 379.3H358.1M372.5 371.7V387.9M368.9 371.7H376.1M368.9 387.9H376.1M391.5 374.6V390.8M387.9 374.6H395.1M387.9 390.8H395.1M410.5 390.3V406.5M406.9 390.3H414.1M406.9 406.5H414.1M428.5 402.3V418.5M424.9 402.3H432.1M424.9 418.5H432.1M272.5 293.7V309.9M268.9 293.7H276.1M268.9 309.9H276.1M298.5 303.3V319.5M294.9 303.3H302.1M294.9 319.5H302.1M316.5 311.5V327.7M312.9 311.5H320.1M312.9 327.7H320.1M335.5 319.2V335.4M331.9 319.2H339.1M331.9 335.4H339.1M354.5 324.8V341M350.9 324.8H358.1M350.9 341H358.1M372.5 334V350.2M368.9 334H376.1M368.9 350.2H376.1M391.5 343.9V360.1M387.9 343.9H395.1M387.9 360.1H395.1M410.5 354.7V370.9M406.9 354.7H414.1M406.9 370.9H414.1M428.5 366.6V382.8M424.9 366.6H432.1M424.9 382.8H432.1M272.5 275.3V291.5M268.9 275.3H276.1M268.9 291.5H276.1M298.5 287.4V303.6M294.9 287.4H302.1M294.9 303.6H302.1M316.5 291.1V307.3M312.9 291.1H320.1M312.9 307.3H320.1M335.5 295.5V311.7M331.9 295.5H339.1M331.9 311.7H339.1M354.5 302.5V318.7M350.9 302.5H358.1M350.9 318.7H358.1M372.5 307.2V323.4M368.9 307.2H376.1M368.9 323.4H376.1M391.5 317.2V333.4M387.9 317.2H395.1M387.9 333.4H395.1M410.5 325.9V342.1M406.9 325.9H414.1M406.9 342.1H414.1M428.5 330.9V347.1M424.9 330.9H432.1M424.9 347.1H432.1M272.5 244.6V260.8M268.9 244.6H276.1M268.9 260.8H276.1M298.5 253V269.2M294.9 253H302.1M294.9 269.2H302.1M316.5 259.5V275.7M312.9 259.5H320.1M312.9 275.7H320.1M335.5 269.2V285.4M331.9 269.2H339.1M331.9 285.4H339.1M354.5 276.6V292.8M350.9 276.6H358.1M350.9 292.8H358.1M372.5 278.6V294.8M368.9 278.6H376.1M368.9 294.8H376.1M391.5 285.2V301.4M387.9 285.2H395.1M387.9 301.4H395.1M410.5 292.4V308.6M406.9 292.4H414.1M406.9 308.6H414.1M428.5 299.9V316.1M424.9 299.9H432.1M424.9 316.1H432.1" stroke="#767676" stroke-width="0.9" fill="none"/>
<path d="M272.08 339.13C273.33 339.58 277.05 340.9 279.54 341.8C282.03 342.69 284.51 343.59 287 344.5C289.48 345.41 291.97 346.32 294.45 347.24C296.94 348.16 299.42 349.09 301.91 350.03C304.39 350.97 306.88 351.91 309.36 352.86C311.85 353.82 314.33 354.78 316.82 355.74C319.31 356.71 321.79 357.69 324.28 358.68C326.76 359.66 329.25 360.66 331.73 361.66C334.22 362.67 336.7 363.68 339.19 364.71C341.67 365.73 344.16 366.76 346.64 367.81C349.13 368.85 351.61 369.9 354.1 370.97C356.59 372.03 359.07 373.11 361.56 374.19C364.04 375.28 366.53 376.38 369.01 377.49C371.5 378.6 373.98 379.72 376.47 380.85C378.95 381.98 381.44 383.12 383.92 384.28C386.41 385.44 388.89 386.6 391.38 387.79C393.87 388.97 396.35 390.16 398.84 391.37C401.32 392.58 403.81 393.8 406.29 395.03C408.78 396.26 411.26 397.51 413.75 398.77C416.23 400.03 418.72 401.31 421.2 402.6C423.69 403.89 427.42 405.86 428.66 406.51M272.08 301.86C273.33 302.19 277.05 303.15 279.54 303.85C282.03 304.54 284.51 305.27 287 306.03C289.48 306.79 291.97 307.58 294.45 308.4C296.94 309.22 299.42 310.07 301.91 310.94C304.39 311.82 306.88 312.72 309.36 313.65C311.85 314.58 314.33 315.54 316.82 316.52C319.31 317.5 321.79 318.51 324.28 319.53C326.76 320.56 329.25 321.61 331.73 322.68C334.22 323.75 336.7 324.85 339.19 325.96C341.67 327.07 344.16 328.2 346.64 329.35C349.13 330.5 351.61 331.67 354.1 332.85C356.59 334.03 359.07 335.23 361.56 336.44C364.04 337.66 366.53 338.88 369.01 340.12C371.5 341.36 373.98 342.62 376.47 343.88C378.95 345.14 381.44 346.42 383.92 347.7C386.41 348.99 388.89 350.28 391.38 351.58C393.87 352.88 396.35 354.19 398.84 355.51C401.32 356.82 403.81 358.15 406.29 359.47C408.78 360.8 411.26 362.13 413.75 363.46C416.23 364.79 418.72 366.13 421.2 367.47C423.69 368.8 427.42 370.81 428.66 371.48M272.08 283.98C273.33 284.1 277.05 284.4 279.54 284.7C282.03 285 284.51 285.37 287 285.79C289.48 286.21 291.97 286.7 294.45 287.23C296.94 287.76 299.42 288.35 301.91 288.99C304.39 289.62 306.88 290.31 309.36 291.04C311.85 291.76 314.33 292.54 316.82 293.35C319.31 294.17 321.79 295.02 324.28 295.91C326.76 296.8 329.25 297.73 331.73 298.69C334.22 299.65 336.7 300.64 339.19 301.66C341.67 302.67 344.16 303.72 346.64 304.79C349.13 305.86 351.61 306.95 354.1 308.06C356.59 309.17 359.07 310.31 361.56 311.45C364.04 312.59 366.53 313.76 369.01 314.93C371.5 316.1 373.98 317.28 376.47 318.47C378.95 319.65 381.44 320.85 383.92 322.04C386.41 323.24 388.89 324.44 391.38 325.63C393.87 326.83 396.35 328.02 398.84 329.21C401.32 330.4 403.81 331.58 406.29 332.75C408.78 333.92 411.26 335.08 413.75 336.22C416.23 337.36 418.72 338.49 421.2 339.6C423.69 340.71 427.42 342.33 428.66 342.87M272.08 252.31C273.33 252.65 277.05 253.64 279.54 254.31C282.03 254.99 284.51 255.68 287 256.38C289.48 257.08 291.97 257.8 294.45 258.52C296.94 259.25 299.42 259.99 301.91 260.74C304.39 261.49 306.88 262.25 309.36 263.03C311.85 263.81 314.33 264.6 316.82 265.4C319.31 266.2 321.79 267.02 324.28 267.85C326.76 268.68 329.25 269.53 331.73 270.39C334.22 271.25 336.7 272.12 339.19 273.01C341.67 273.9 344.16 274.81 346.64 275.73C349.13 276.65 351.61 277.58 354.1 278.53C356.59 279.48 359.07 280.45 361.56 281.43C364.04 282.41 366.53 283.41 369.01 284.42C371.5 285.44 373.98 286.47 376.47 287.52C378.95 288.57 381.44 289.63 383.92 290.71C386.41 291.8 388.89 292.89 391.38 294.01C393.87 295.13 396.35 296.26 398.84 297.42C401.32 298.57 403.81 299.74 406.29 300.93C408.78 302.12 411.26 303.33 413.75 304.55C416.23 305.78 418.72 307.03 421.2 308.29C423.69 309.56 427.42 311.5 428.66 312.15" stroke="#231f20" stroke-width="1.4" fill="none"/>
<g fill="#231f20"><path d="M272.08 330.33L275.83 336.73L268.33 336.73Z"/><path d="M298.18 340.03L301.93 346.43L294.43 346.43Z"/><path d="M316.82 346.63L320.57 353.03L313.07 353.03Z"/><path d="M335.46 361.93L339.21 368.33L331.71 368.33Z"/><path d="M354.1 366.93L357.85 373.33L350.35 373.33Z"/><path d="M372.74 375.53L376.49 381.93L368.99 381.93Z"/><path d="M391.38 378.43L395.13 384.83L387.63 384.83Z"/><path d="M410.02 394.13L413.77 400.53L406.27 400.53Z"/><path d="M428.66 406.13L432.41 412.53L424.91 412.53Z"/><circle cx="272.08" cy="301.8" r="3.3"/><circle cx="298.18" cy="311.4" r="3.3"/><circle cx="316.82" cy="319.6" r="3.3"/><circle cx="335.46" cy="327.3" r="3.3"/><circle cx="354.1" cy="332.9" r="3.3"/><circle cx="372.74" cy="342.1" r="3.3"/><circle cx="391.38" cy="352" r="3.3"/><circle cx="410.02" cy="362.8" r="3.3"/><circle cx="428.66" cy="374.7" r="3.3"/><path d="M272.08 287.67L275.83 281.27L268.33 281.27Z"/><path d="M298.18 299.77L301.93 293.37L294.43 293.37Z"/><path d="M316.82 303.47L320.57 297.07L313.07 297.07Z"/><path d="M335.46 307.87L339.21 301.47L331.71 301.47Z"/><path d="M354.1 314.87L357.85 308.47L350.35 308.47Z"/><path d="M372.74 319.57L376.49 313.17L368.99 313.17Z"/><path d="M391.38 329.57L395.13 323.17L387.63 323.17Z"/><path d="M410.02 338.27L413.77 331.87L406.27 331.87Z"/><path d="M428.66 343.27L432.41 336.87L424.91 336.87Z"/><path d="M272.08 247.9L276.78 252.7L272.08 257.5L267.38 252.7Z"/><path d="M298.18 256.3L302.88 261.1L298.18 265.9L293.48 261.1Z"/><path d="M316.82 262.8L321.52 267.6L316.82 272.4L312.12 267.6Z"/><path d="M335.46 272.5L340.16 277.3L335.46 282.1L330.76 277.3Z"/><path d="M354.1 279.9L358.8 284.7L354.1 289.5L349.4 284.7Z"/><path d="M372.74 281.9L377.44 286.7L372.74 291.5L368.04 286.7Z"/><path d="M391.38 288.5L396.08 293.3L391.38 298.1L386.68 293.3Z"/><path d="M410.02 295.7L414.72 300.5L410.02 305.3L405.32 300.5Z"/><path d="M428.66 303.2L433.36 308L428.66 312.8L423.96 308Z"/></g>
<rect x="267.7" y="392.8" width="57.5" height="39.4" fill="#fff" stroke="#7a7a7a" stroke-width="1"/>
<path d="M268.9 433.4H326.4V394.3" stroke="#231f20" stroke-width="1.7" fill="none"/>
<g fill="#231f20"><path d="M273.9 396.13L277.65 402.53L270.15 402.53Z"/><circle cx="273.9" cy="408.9" r="3.3"/><path d="M273.9 421.67L277.65 415.27L270.15 415.27Z"/><path d="M273.9 421.1L278.6 425.9L273.9 430.7L269.2 425.9Z"/></g>
<text x="282.3" y="403.9" class="lg"><tspan font-style="italic">x</tspan> = 0.20, b4</text>
<text x="282.3" y="412.4" class="lg"><tspan font-style="italic">x</tspan> = 0.45, c4</text>
<text x="282.3" y="420.9" class="lg"><tspan font-style="italic">x</tspan> = 0.67, d4</text>
<text x="282.3" y="429.4" class="lg"><tspan font-style="italic">x</tspan> = 0.82, e4</text>
<rect x="260.9" y="237.6" width="186.4" height="202.4" fill="none" stroke="#231f20" stroke-width="1.3"/>
<path d="M279.54 440v-2.7M279.54 237.6v2.7M298.18 440v-4.3M298.18 237.6v4.3M316.82 440v-2.7M316.82 237.6v2.7M335.46 440v-4.3M335.46 237.6v4.3M354.1 440v-2.7M354.1 237.6v2.7M372.74 440v-4.3M372.74 237.6v4.3M391.38 440v-2.7M391.38 237.6v2.7M410.02 440v-4.3M410.02 237.6v4.3M428.66 440v-2.7M428.66 237.6v2.7M260.9 278.08h4.3M447.3 278.08h-4.3M260.9 359.04h4.3M447.3 359.04h-4.3M260.9 318.56h2.7M447.3 318.56h-2.7M260.9 399.52h2.7M447.3 399.52h-2.7" stroke="#231f20" stroke-width="1.2" fill="none"/>
<text transform="translate(260.9 450.7) scale(0.94 1)" class="tl" text-anchor="middle">0</text>
<text transform="translate(298.18 450.7) scale(0.94 1)" class="tl" text-anchor="middle">100</text>
<text transform="translate(335.46 450.7) scale(0.94 1)" class="tl" text-anchor="middle">200</text>
<text transform="translate(372.74 450.7) scale(0.94 1)" class="tl" text-anchor="middle">300</text>
<text transform="translate(410.02 450.7) scale(0.94 1)" class="tl" text-anchor="middle">400</text>
<text transform="translate(447.3 450.7) scale(0.94 1)" class="tl" text-anchor="middle">500</text>
<text transform="translate(259.7 281.38) scale(0.94 1)" class="tl" text-anchor="end">390</text>
<text transform="translate(259.7 362.34) scale(0.94 1)" class="tl" text-anchor="end">380</text>
<text transform="translate(259.7 443.3) scale(0.94 1)" class="tl" text-anchor="end">370</text>
<text transform="translate(353.1 462.7) scale(0.965 1)" class="at" text-anchor="middle">Temperature (°C)</text>
<text transform="translate(242.6 338.8) rotate(-90) scale(0.95 1)" class="at" text-anchor="middle">Raman Shift for X4 (cm<tspan dy="-5.0" font-size="8">-1</tspan><tspan dy="5.0">)</tspan></text>
<text transform="translate(431.6 258.1) scale(0.91 1)" class="tag" text-anchor="middle">(d)</text>
</svg>
</body></html>
